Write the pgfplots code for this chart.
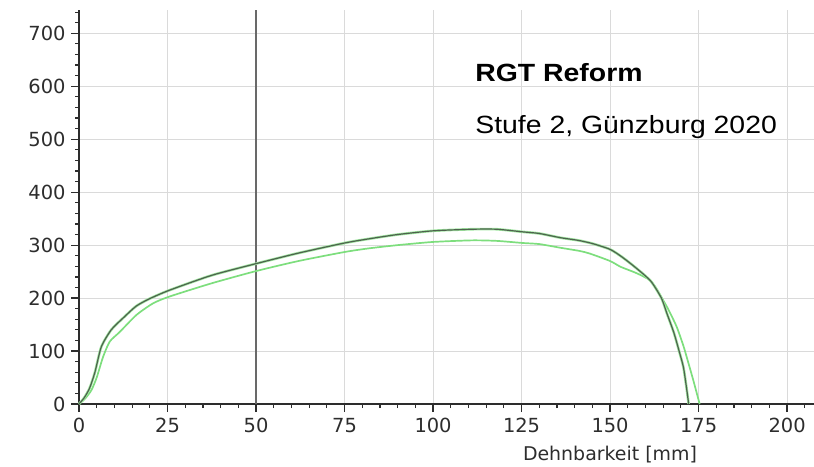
\documentclass[border=0pt]{standalone}
\usepackage{fontspec}
\setmainfont{DejaVu Sans}
\newfontfamily\arialfont{Liberation Sans}
\usepackage{pgfplots}
\pgfplotsset{compat=1.18}
\definecolor{darkc}{RGB}{78,98,78}
\definecolor{haloc}{RGB}{160,230,160}
\definecolor{lightc}{RGB}{125,222,125}
\definecolor{gridc}{RGB}{218,218,218}
\definecolor{axisc}{RGB}{45,45,45}
\definecolor{textc}{RGB}{45,45,45}
\definecolor{vlinec}{RGB}{105,105,105}
\begin{document}
\begin{tikzpicture}
\useasboundingbox (-79bp,-63bp) rectangle (735bp,404bp);
\begin{axis}[
  at={(0,0)}, anchor=south west,
  scale only axis, width=735bp, height=394bp,
  xmin=0, xmax=207.6, ymin=0, ymax=744,
  axis lines*=left,
  axis line style={axisc, line width=1.6bp},
  xtick={0,25,...,200}, ytick={0,100,...,700},
  minor xtick={0,5,...,205}, minor ytick={0,20,...,740},
  tick align=outside,
  major tick length=8bp, minor tick length=4bp,
  every tick/.style={axisc, line width=1.2bp},
  grid=major, major grid style={gridc, line width=0.9bp},
  /pgf/number format/assume math mode=true,
  tick label style={font=\fontsize{19.5}{21}\selectfont, text=textc},
  xticklabel style={yshift=-3bp},
  yticklabel style={xshift=-2bp},
  xlabel={Dehnbarkeit [mm]},
  xlabel style={at={(axis description cs:0.7224,0)}, anchor=north, yshift=-42bp, inner sep=0pt, font=\fontsize{19}{21}\selectfont, text=textc},
  clip=false,
]
\addplot[vlinec, line width=1.5bp] coordinates {(50,0) (50,744)};
\addplot[lightc, line width=1.7bp, smooth, tension=0.4] coordinates {
(0,0) (1.7,10) (3.5,26) (5,50) (6.8,89) (8.7,118) (11.5,136) (16.2,168) (20.9,190) (25.6,203) (37.5,228) (50,251) (62,270) (75,287) (82,294) (90,300) (100,306) (111,309) (118,308) (125.4,304) (130,302) (136,295) (141.4,289) (144.3,284) (150,270) (153,259) (157.5,247) (161.2,234) (163,219) (165,196) (166.5,178) (168.8,146) (170.7,110) (171.8,85) (173.5,45) (175.3,0)};
\addplot[haloc, line width=2.6bp, smooth, tension=0.4] coordinates {
(0,0) (1.5,12) (3,30) (4.5,60) (6.3,108) (9.1,140) (12.4,162) (16.2,185) (20,199) (25.6,215) (37.5,243) (50,265) (62,285) (75,304) (82,312) (90,320) (100,327) (111,330) (118,330) (125.4,325) (130,322) (136,314) (141,309) (145,303) (150,292) (153.5,277) (157.5,256) (161.5,232) (164.5,200) (166,172) (168,135) (169.5,100) (170.7,70) (171.5,35) (172.2,0)};
\addplot[darkc, line width=1.2bp, smooth, tension=0.4] coordinates {
(0,0) (1.5,12) (3,30) (4.5,60) (6.3,108) (9.1,140) (12.4,162) (16.2,185) (20,199) (25.6,215) (37.5,243) (50,265) (62,285) (75,304) (82,312) (90,320) (100,327) (111,330) (118,330) (125.4,325) (130,322) (136,314) (141,309) (145,303) (150,292) (153.5,277) (157.5,256) (161.5,232) (164.5,200) (166,172) (168,135) (169.5,100) (170.7,70) (171.5,35) (172.2,0)};
\node[anchor=base west, inner sep=0pt, font=\arialfont\bfseries\fontsize{25}{28}\selectfont] at (axis cs:111.9,608.6) {\scalebox{1.14}[1]{RGT Reform}};
\node[anchor=base west, inner sep=0pt, font=\arialfont\fontsize{25}{28}\selectfont] at (axis cs:111.9,511) {\scalebox{1.14}[1]{Stufe 2, Günzburg 2020}};
\end{axis}
\end{tikzpicture}
\end{document}
